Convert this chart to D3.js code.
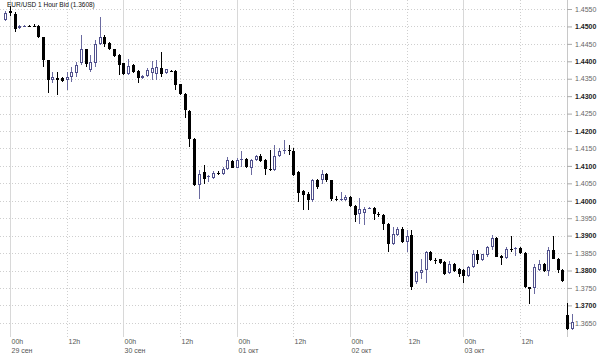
<!DOCTYPE html>
<html><head><meta charset="utf-8">
<script src="https://cdn.jsdelivr.net/npm/d3@7"></script>
<style>body{margin:0;background:#fff}svg{display:block;font-family:"Liberation Sans",Arial,sans-serif}</style>
</head><body><svg id="c" width="600" height="353"></svg>
<script>
const title = "EUR/USD 1 Hour Bid (1.3608)";
const startTime = "2008-09-28T23:00:00Z"; // first hourly candle
const open = [1.4518,1.4544,1.4537,1.4495,1.4501,1.4502,1.4501,1.4501,1.4470,1.4403,
1.4346,1.4353,1.4351,1.4346,1.4356,1.4367,1.4394,1.4434,1.4375,1.4394,
1.4449,1.4469,1.4453,1.4434,1.4418,1.4394,1.4365,1.4389,1.4373,1.4352,
1.4358,1.4367,1.4365,1.4381,1.4367,1.4373,1.4373,1.4334,1.4305,1.4258,
1.4176,1.4044,1.4082,1.4067,1.4066,1.4080,1.4078,1.4092,1.4114,1.4095,
1.4116,1.4121,1.4095,1.4116,1.4127,1.4118,1.4092,1.4087,1.4127,1.4144,
1.4146,1.4144,1.4082,1.4028,1.4020,1.4001,1.4059,1.4059,1.4078,1.4059,
1.4006,1.4004,1.4003,1.4012,1.3985,1.3963,1.3966,1.3978,1.3980,1.3963,
1.3960,1.3934,1.3877,1.3903,1.3920,1.3881,1.3903,1.3766,1.3792,1.3802,
1.3853,1.3829,1.3832,1.3825,1.3793,1.3819,1.3805,1.3802,1.3783,1.3811,
1.3846,1.3829,1.3845,1.3867,1.3894,1.3843,1.3836,1.3862,1.3862,1.3864,
1.3850,1.3752,1.3749,1.3802,1.3819,1.3800,1.3859,1.3833,1.3802,1.3671,1.3633];
const high = [1.4544,1.4560,1.4540,1.4503,1.4505,1.4504,1.4506,1.4503,1.4471,1.4405,
1.4370,1.4370,1.4355,1.4370,1.4384,1.4399,1.4475,1.4436,1.4418,1.4461,
1.4528,1.4475,1.4455,1.4436,1.4420,1.4396,1.4408,1.4391,1.4375,1.4360,
1.4380,1.4401,1.4403,1.4427,1.4379,1.4376,1.4375,1.4336,1.4308,1.4260,
1.4180,1.4087,1.4102,1.4073,1.4085,1.4086,1.4098,1.4126,1.4118,1.4122,
1.4143,1.4124,1.4121,1.4130,1.4135,1.4121,1.4145,1.4159,1.4150,1.4173,
1.4159,1.4150,1.4085,1.4030,1.4025,1.4063,1.4062,1.4089,1.4080,1.4060,
1.4015,1.4025,1.4017,1.4014,1.3987,1.4009,1.3982,1.3983,1.3982,1.3968,
1.3962,1.3936,1.3924,1.3925,1.3924,1.3915,1.3917,1.3798,1.3834,1.3856,
1.3856,1.3836,1.3834,1.3828,1.3827,1.3821,1.3808,1.3805,1.3813,1.3858,
1.3858,1.3848,1.3870,1.3902,1.3896,1.3845,1.3866,1.3898,1.3868,1.3867,
1.3852,1.3754,1.3818,1.3830,1.3822,1.3868,1.3899,1.3835,1.3804,1.3706,1.3676];
const low = [1.4515,1.4530,1.4485,1.4493,1.4499,1.4499,1.4498,1.4466,1.4384,1.4308,
1.4337,1.4303,1.4342,1.4317,1.4341,1.4356,1.4389,1.4384,1.4370,1.4384,
1.4447,1.4442,1.4432,1.4413,1.4360,1.4362,1.4360,1.4367,1.4337,1.4350,
1.4356,1.4346,1.4346,1.4356,1.4365,1.4370,1.4319,1.4303,1.4236,1.4154,
1.4042,1.4006,1.4049,1.4054,1.4063,1.4074,1.4073,1.4087,1.4093,1.4093,
1.4097,1.4094,1.4073,1.4114,1.4111,1.4073,1.4086,1.4086,1.4125,1.4135,
1.4130,1.4070,1.3996,1.3974,1.3974,1.3996,1.4035,1.4049,1.4055,1.4000,
1.3998,1.3998,1.3999,1.3982,1.3939,1.3934,1.3930,1.3975,1.3944,1.3953,
1.3915,1.3853,1.3872,1.3900,1.3878,1.3853,1.3743,1.3760,1.3775,1.3765,
1.3826,1.3820,1.3819,1.3788,1.3791,1.3795,1.3780,1.3765,1.3780,1.3807,
1.3820,1.3826,1.3840,1.3858,1.3838,1.3817,1.3832,1.3853,1.3842,1.3847,
1.3750,1.3704,1.3733,1.3800,1.3796,1.3785,1.3832,1.3792,1.3768,1.3630,1.3630];
const close = [1.4539,1.4538,1.4493,1.4501,1.4502,1.4501,1.4500,1.4470,1.4403,1.4346,
1.4356,1.4346,1.4344,1.4356,1.4370,1.4389,1.4434,1.4392,1.4399,1.4451,
1.4469,1.4449,1.4434,1.4415,1.4389,1.4365,1.4386,1.4370,1.4351,1.4358,
1.4375,1.4380,1.4384,1.4363,1.4377,1.4372,1.4332,1.4306,1.4260,1.4176,
1.4044,1.4078,1.4063,1.4070,1.4080,1.4077,1.4092,1.4116,1.4095,1.4118,
1.4121,1.4097,1.4118,1.4127,1.4114,1.4092,1.4087,1.4127,1.4143,1.4146,
1.4144,1.4073,1.4022,1.4017,1.4001,1.4059,1.4040,1.4078,1.4059,1.4006,
1.4004,1.4005,1.4012,1.3985,1.3958,1.3975,1.3977,1.3979,1.3963,1.3961,
1.3934,1.3877,1.3905,1.3920,1.3881,1.3900,1.3752,1.3796,1.3802,1.3853,
1.3829,1.3828,1.3821,1.3790,1.3819,1.3798,1.3790,1.3783,1.3811,1.3846,
1.3829,1.3846,1.3867,1.3894,1.3840,1.3836,1.3862,1.3860,1.3864,1.3850,
1.3754,1.3747,1.3810,1.3819,1.3800,1.3859,1.3833,1.3802,1.3769,1.3632,1.3652];
const priceTicks = [1.3650,1.3700,1.3750,1.3800,1.3850,1.3900,1.3950,1.4000,1.4050,1.4100,
1.4150,1.4200,1.4250,1.4300,1.4350,1.4400,1.4450,1.4500,1.4550];
const hourTickTimes = ["2008-09-29T00:00Z","2008-09-29T12:00Z","2008-09-30T00:00Z","2008-09-30T12:00Z",
"2008-10-01T00:00Z","2008-10-01T12:00Z","2008-10-02T00:00Z","2008-10-02T12:00Z","2008-10-03T00:00Z","2008-10-03T12:00Z"];
const hourTickLabels = ["00h","12h","00h","12h","00h","12h","00h","12h","00h","12h"];
const dayTickLabels = ["29 сен","","30 сен","","01 окт","","02 окт","","03 окт",""];

const svg = d3.select("#c");
const plotRight = 567, plotBottom = 337;
const t0 = new Date(startTime);
const data = open.map((o,i)=>({t:d3.utcHour.offset(t0,i),o,h:high[i],l:low[i],c:close[i]}));
const hourDates = hourTickTimes.map(s=>new Date(s));

const x = d3.scaleUtc().domain([hourDates[0], hourDates[hourDates.length-1]]).range([10,520]);
const y = d3.scaleLinear().domain([1.3650,1.4550]).range([322.8,9]);

// horizontal dotted gridlines
svg.append("g").selectAll("line").data(priceTicks).join("line")
  .attr("x1",0).attr("x2",plotRight)
  .attr("y1",d=>Math.round(y(d))+0.5).attr("y2",d=>Math.round(y(d))+0.5)
  .attr("stroke","#cfcfcf").attr("stroke-dasharray","1,2");

// vertical gridlines
svg.append("g").selectAll("line").data(hourDates).join("line")
  .attr("x1",d=>Math.round(x(d))+0.5).attr("x2",d=>Math.round(x(d))+0.5)
  .attr("y1",0).attr("y2",plotBottom)
  .attr("stroke",(d,i)=>i%2===0?"#d8d8d8":"#cfcfcf")
  .attr("stroke-dasharray",(d,i)=>i%2===0?null:"1,2");

// right axis
svg.append("line").attr("x1",plotRight+0.5).attr("x2",plotRight+0.5).attr("y1",0).attr("y2",plotBottom)
  .attr("stroke","#c8c8c8");
const ya = svg.append("g").attr("transform",`translate(${plotRight},0)`)
  .call(d3.axisRight(y).tickValues(priceTicks).tickSize(5).tickPadding(3).tickFormat(d3.format(".4f")));
ya.select(".domain").remove();
ya.selectAll(".tick line").attr("stroke","#aaa");
ya.selectAll(".tick text").attr("font-size",7).attr("font-family","'Liberation Sans',Arial,sans-serif")
  .attr("fill",d=>Math.round(d*10000)%100===0?"#222":"#666")
  .attr("font-weight",d=>Math.round(d*10000)%100===0?"bold":"normal");

// x labels
const xl = svg.append("g").attr("font-size",7).attr("fill","#555");
xl.selectAll("text.h").data(hourDates).join("text").attr("class","h")
  .attr("x",d=>Math.round(x(d))+1.5).attr("y",343.5).text((d,i)=>hourTickLabels[i]);
xl.selectAll("text.d").data(hourDates).join("text").attr("class","d")
  .attr("x",d=>Math.round(x(d))+1.5).attr("y",352.5).text((d,i)=>dayTickLabels[i]);

// candles
const upCol = "#50508c", upWick = "#6a6aa0";
const g = svg.append("g").attr("shape-rendering","crispEdges");
data.forEach(d=>{
  const cx = Math.round(x(d.t));
  const up = d.c >= d.o;
  const yTop = Math.round(y(Math.max(d.o,d.c)));
  const yBot = Math.max(Math.round(y(Math.min(d.o,d.c))), yTop+1);
  const col = up ? upCol : "#000";
  g.append("line").attr("x1",cx+0.5).attr("x2",cx+0.5)
    .attr("y1",Math.round(y(d.h))).attr("y2",Math.round(y(d.l)))
    .attr("stroke",up?upWick:"#000");
  if(up){
    g.append("rect").attr("x",cx-0.5).attr("y",yTop+0.5).attr("width",2).attr("height",Math.max(yBot-yTop-1,0.01))
      .attr("fill","#fff").attr("stroke",col);
  } else {
    g.append("rect").attr("x",cx-1).attr("y",yTop).attr("width",3).attr("height",yBot-yTop).attr("fill","#000");
  }
});

// title
svg.append("text").attr("x",7).attr("y",7).attr("font-size",6.5).attr("fill","#111").text(title);
</script></body></html>
